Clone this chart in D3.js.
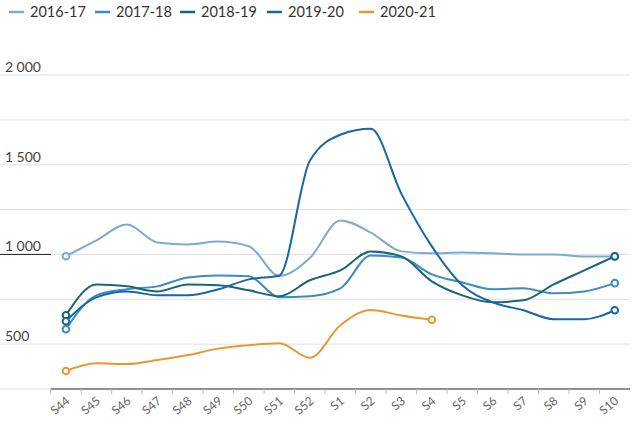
<!DOCTYPE html>
<html>
<head>
<meta charset="utf-8">
<script src="https://cdn.jsdelivr.net/npm/d3@7"></script>
<style>
  body { margin:0; background:#fff; }
  svg { font-family: Lato, "Open Sans", sans-serif; }
</style>
</head>
<body>
<div id="chart"></div>
<script>
// weeks on the x axis
const WEEKS = ["S44","S45","S46","S47","S48","S49","S50","S51","S52",
  "S1","S2","S3","S4","S5","S6","S7","S8","S9","S10"];

const SEASONS = ["2016-17","2017-18","2018-19","2019-20","2020-21"];
const COLORS  = ["#7eaad0","#3b8cc0","#186579","#1866a5","#e8982f"];

const V_1617 = [990,1078,1167,1067,1056,1072,1046,880,980,1189,1122,1017,1006,1011,1006,1000,1000,989,989];
const V_1718 = [583,772,806,822,872,883,878,761,767,811,994,983,889,844,806,811,783,794,840];
const V_1819 = [661,833,822,794,833,828,800,767,856,911,1017,989,850,772,733,744,833,911,989];
const V_1920 = [628,761,794,772,772,806,861,883,1522,1667,1700,1339,1045,828,733,689,639,639,689];
const V_2021 = [350,393,389,411,439,475,494,505,424,605,690,660,636];

const Y_TICKS = [250,500,750,1000,1250,1500,1750,2000];
const Y_LABELS = [500,1000,1500,2000];

const W = 634, H = 432;
const svg = d3.select("#chart").append("svg").attr("width", W).attr("height", H);

const x = d3.scaleBand().domain(WEEKS).range([50.7, 630]).padding(0);
const y = d3.scaleLinear().domain([250, 2000]).range([389, 75]);
const cx = d => x(d) + x.bandwidth() / 2;

// grid
svg.append("g").selectAll("line")
  .data(Y_TICKS)
  .enter().append("line")
  .attr("x1", 0).attr("x2", 630)
  .attr("y1", d => y(d)).attr("y2", d => y(d))
  .attr("stroke", "#e0e0e0").attr("stroke-width", 1);

svg.append("line")
  .attr("x1", 0).attr("x2", 51)
  .attr("y1", y(1000)).attr("y2", y(1000))
  .attr("stroke", "#222").attr("stroke-width", 1);

svg.append("g").selectAll("text")
  .data(Y_LABELS)
  .enter().append("text")
  .attr("x", 5).attr("y", d => y(d) - 3)
  .text(d => d3.format(",")(d).replace(",", "\u202f"))
  .style("font-size", "14px")
  .style("fill", "#444");

// x axis
const xAxis = svg.append("g");
xAxis.append("line")
  .attr("x1", 50.7).attr("x2", 630)
  .attr("y1", 389).attr("y2", 389)
  .attr("stroke", "#333").attr("stroke-width", 1.2);
xAxis.selectAll("line.tick")
  .data(WEEKS)
  .enter().append("line")
  .attr("class", "tick")
  .attr("x1", d => x(d)).attr("x2", d => x(d))
  .attr("y1", 389).attr("y2", 394)
  .attr("stroke", "#bbb");
xAxis.selectAll("text")
  .data(WEEKS)
  .enter().append("text")
  .attr("transform", d => `translate(${cx(d) + 2},${399}) rotate(-40)`)
  .attr("text-anchor", "end")
  .attr("dy", "0.35em")
  .text(d => d)
  .style("font-size", "12px")
  .style("fill", "#666");

// lines
const series = [V_1617, V_1718, V_1819, V_1920, V_2021].map((vals, i) => ({
  name: SEASONS[i], color: COLORS[i],
  pts: vals.map((v, j) => ({ w: WEEKS[j], v }))
}));

const line = d3.line()
  .x(d => cx(d.w))
  .y(d => y(d.v))
  .curve(d3.curveMonotoneX);

const sg = svg.append("g").selectAll("g")
  .data(series)
  .enter().append("g");

sg.append("path")
  .attr("d", d => line(d.pts))
  .attr("fill", "none")
  .attr("stroke", d => d.color)
  .attr("stroke-width", 2);

sg.selectAll("circle")
  .data(d => [d.pts[0], d.pts[d.pts.length - 1]].map(p => ({ p, c: d.color })))
  .enter().append("circle")
  .attr("cx", d => cx(d.p.w))
  .attr("cy", d => y(d.p.v))
  .attr("r", 3.3)
  .attr("fill", "#fff")
  .attr("stroke", d => d.c)
  .attr("stroke-width", 2);

// legend
const LEG_X = [9, 95, 180, 267, 359];
const leg = svg.append("g").selectAll("g")
  .data(series)
  .enter().append("g")
  .attr("transform", (d, i) => `translate(${LEG_X[i]},12)`);
leg.append("line")
  .attr("x1", 0).attr("x2", 15)
  .attr("stroke", d => d.color).attr("stroke-width", 2.5);
leg.append("text")
  .attr("x", 21).attr("dy", "0.35em")
  .text(d => d.name)
  .style("font-size", "14.5px")
  .style("fill", "#333");
</script>
</body>
</html>
